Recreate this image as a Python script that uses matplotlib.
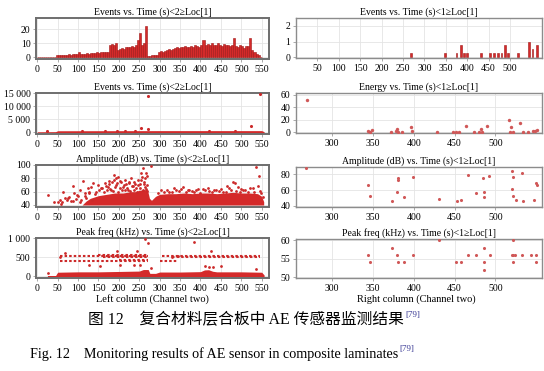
import numpy as np
import matplotlib
matplotlib.use('Agg')
import matplotlib.pyplot as plt
from matplotlib.ticker import FuncFormatter

plt.rcParams['font.family'] = ['Liberation Serif', 'DejaVu Serif']

RED = '#d42a2a'
EDGE = '#a01515'
DOT = '#cc2a2a'
PDOT = '#d05858'

# ---------------- data: channel 2 (left column) ----------------
ev2_bin_start = 0
ev2_bin_width = 5
ev2_counts = [0.3, 0.3, 0.3, 0.3, 0.3, 0.3, 0.3, 0.3, 0.3, 1.5,
              1.5, 1.8, 2, 1.8, 2, 2.2, 2, 2.5, 2.2, 2.5,
              3.5, 2.5, 2.3, 2.5, 2.8, 2.5, 3, 2.8,
              3.2, 3.5, 3, 3.8, 3.5, 4, 3.8,
              9, 9.5, 9, 10,
              5, 6,
              6.5, 6, 7, 7.5,
              7, 8, 7.5, 8.5,
              12, 17, 9, 10, 22,
              0.8, 1, 1.5, 2, 2, 4,
              4.5, 4, 4.5,
              5.5, 6, 5.5, 6, 6.5,
              7, 6.5, 7.5, 7, 8, 7.5, 7, 8, 7.5, 8.5, 8, 7.5, 8.5,
              12,
              9, 9.5, 8.5, 10, 9, 8.5, 10, 9, 8, 9.5, 8.5, 9, 8,
              8.5, 14,
              8, 7, 9, 8, 6.5, 8,
              8, 13.5, 5, 3.5, 2.5, 1.5, 0.5]

e2_t = [25, 110, 165, 195, 215, 240, 255, 272, 272, 420, 485, 523, 545]
e2_v = [300, 300, 400, 300, 300, 400, 1800, 1300, 14000, 500, 500, 2500, 14800]
e2_band_t = [0, 45, 50, 300, 550, 556]
e2_band_lo = [-150, -150, -350, -350, -350, -150]
e2_band_hi = [150, 200, 550, 600, 600, 200]

amp2_core_t = [110, 120, 130, 140, 150, 160, 170, 180, 190, 200, 210, 220, 230, 240,
               250, 260, 270, 275, 280, 290, 300, 320, 340, 360, 380, 400, 420, 440,
               460, 480, 500, 520, 540, 550, 555]
amp2_core_hi = [40, 46, 50, 52, 54, 55, 56, 57, 58, 58, 58, 59, 60, 60,
                62, 63, 63, 50, 47, 53, 56, 57, 57, 58, 57, 58, 58, 57,
                58, 59, 58, 58, 57, 53, 45]
amp2_t = [26, 42, 50, 55, 60, 63, 67, 72, 78, 83, 87, 91, 95, 100, 104, 108, 112, 116, 120,
          124, 128, 132, 136, 144, 149, 157, 165, 173, 177, 181, 189, 192, 193, 198,
          202, 206, 210, 214, 218, 222, 226, 230, 234, 238, 242, 247, 251, 255, 257,
          259, 261, 263, 265, 267, 269, 279, 304, 324, 341, 357, 373, 390, 406, 422,
          439, 455, 471, 484, 492, 504, 516, 528, 537, 541, 543, 549, 553,
          152, 158, 163, 168, 171, 176, 179, 184, 186, 188, 191, 196, 199, 204, 208, 212,
          216, 220, 224, 228, 232, 236, 240, 244, 248, 252, 254, 258, 262, 266, 268, 270,
          295, 310, 318, 330, 336, 348, 352, 365, 370, 380, 385, 395, 400, 412, 418, 428,
          433, 445, 450, 462, 466, 476, 480, 488, 496, 500, 510, 522, 532, 545,
          58, 75, 88, 97, 106, 118, 126, 134, 141]
amp2_v = [55, 45, 45, 48, 44, 60, 50, 47, 52, 46, 68.5, 57.5, 49, 53, 62.5, 48, 76.5, 57.5, 51,
          65, 60, 67.5, 72.5, 60, 70, 65, 72.5, 67.5, 76.5, 62.5, 85, 80, 70, 82.5,
          65, 75, 67.5, 77.5, 71.5, 62.5, 72.5, 80, 68.5, 75, 65, 77.5, 71.5, 87.5, 82.5,
          95, 75, 67.5, 80, 88, 70, 98.5, 62, 60, 62, 67.5, 62, 62, 64, 61,
          62.5, 60, 65, 72.5, 67.5, 62.5, 60, 65, 96.5, 68.5, 83.5, 57.5, 52.5,
          62, 66, 60, 69, 63, 71, 64, 74, 61, 78, 67, 73, 60, 76, 63, 70,
          62, 66, 74, 61, 68, 63, 72, 60, 70, 66, 78, 63, 72, 64, 84, 61,
          58, 60, 63, 59, 66, 61, 64, 59, 63, 61, 60, 64, 58, 62, 66, 59,
          63, 61, 64, 60, 69, 63, 75, 61, 60, 64, 62, 66, 60, 61,
          42, 50, 46, 55, 44, 53, 58, 48, 56]

pf2_core_t = [25, 45, 50, 100, 150, 200, 250, 260, 272, 276, 290, 300, 350, 400, 410,
              420, 430, 440, 500, 550, 556]
pf2_core_hi = [25, 25, 110, 120, 120, 130, 140, 180, 180, 80, 80, 115, 115, 125, 170,
               175, 135, 120, 120, 110, 40]
pf2_seg_t0 = [55, 55, 150, 160, 200, 305, 300, 330]
pf2_seg_t1 = [272, 272, 272, 272, 272, 545, 345, 545]
pf2_seg_f = [525, 390, 555, 500, 430, 520, 400, 500]
pf2_t = [26, 55, 67, 128, 153, 195, 202, 238, 244, 251, 265, 272, 279, 385, 410, 422,
         425, 430, 451, 537, 330, 345]
pf2_v = [80, 500, 600, 300, 260, 660, 310, 290, 660, 290, 970, 880, 220, 890, 280, 250,
         660, 240, 270, 200, 515, 520]

# ---------------- data: channel 1 (right column) ----------------
ev1_t = [269, 348, 375, 385, 392, 400, 432, 453, 463, 472, 480, 488, 495, 519, 544, 553, 563]
ev1_h = [0.25, 0.25, 0.25, 0.75, 0.25, 0.25, 0.25, 0.25, 0.25, 0.25, 0.25, 0.75, 0.25, 0.25,
         1.0, 0.5, 0.75]

e1_t = [269, 344, 346, 349, 372, 378, 380, 381, 386, 397, 398, 429, 448, 452, 455, 464, 474,
        480, 482, 484, 490, 517, 518, 519, 522, 530, 534, 540, 546, 549, 551]
e1_v = [52.5, 2.5, 0.5, 3, 0.3, 1.5, 5, 0.5, 0.3, 8, 1, 0.3, 0.5, 0.3, 0.3, 9, 0.3,
        0.5, 5, 0.5, 9, 19.5, 0.5, 8, 0.3, 15, 0.3, 0.5, 1.5, 2.5, 3.5]

a1_t = [268, 344, 346, 373, 379, 381, 381, 388, 399, 431, 453, 458, 466, 476, 485, 486, 486,
        492, 520, 521, 520, 522, 525, 533, 534, 547, 550, 551]
a1_v = [88, 67, 52.5, 46.5, 57, 76, 73, 51, 77, 49, 46.5, 47.5, 79, 56.5, 76, 58, 51,
        78, 85, 77, 61, 53, 47.5, 82, 46.5, 47.5, 69, 66]

p1_t = [344, 347, 373, 380, 381, 388, 399, 431, 452, 458, 466, 476, 486, 486, 486, 493,
        520, 522, 524, 521, 522, 533, 543, 550, 550]
p1_v = [56, 54, 58, 56, 54, 54, 56, 60, 54, 54, 56, 56, 58, 54, 52, 56,
        56, 56, 56, 60, 54, 56, 56, 56, 54]

titles_left = ["Events vs. Time (s)<2\u2265Loc[1]",
               "Events vs. Time (s)<2\u2265Loc[1]",
               "Amplitude (dB) vs. Time (s)<2\u2265Loc[1]",
               "Peak freq (kHz) vs. Time (s)<2\u2265Loc[1]"]
titles_right = ["Events vs. Time (s)<1\u2265Loc[1]",
                "Energy vs. Time (s)<1\u2265Loc[1]",
                "Amplitude (dB) vs. Time (s)<1\u2265Loc[1]",
                "Peak freq (kHz) vs. Time (s)<1\u2265Loc[1]"]

W, H = 544, 371
fig = plt.figure(figsize=(W / 100, H / 100), dpi=100)


def box(x0, y0, x1, y1):
    return [x0 / W, 1 - y1 / H, (x1 - x0) / W, (y1 - y0) / H]


left_rows = [(18, 59), (93, 134), (165, 207), (238, 278)]
right_rows = [(18, 58), (93, 133), (167, 207), (239, 278)]

thou = FuncFormatter(lambda v, p: f"{int(v):,}".replace(",", " "))


def style(ax, title, dark):
    ax.set_title(title, fontsize=7, pad=2)
    for s in ax.spines.values():
        s.set_color('#6e6e6e' if dark else '#8c8c8c')
        s.set_linewidth(1.4 if dark else 1.0)
    ax.tick_params(labelsize=7, length=2, width=0.5, color='#888888', pad=2)
    ax.grid(True, color='#e4e4e4', linewidth=0.6)
    ax.set_axisbelow(True)


lx = [0, 50, 100, 150, 200, 250, 300, 350, 400, 450, 500, 550]
axL = [fig.add_axes(box(36, r[0], 269, r[1])) for r in left_rows]
axR = [fig.add_axes(box(296, r[0], 542, r[1])) for r in right_rows]

# Left 1 - events histogram
ax = axL[0]
edges = ev2_bin_start + ev2_bin_width * np.arange(len(ev2_counts))
ax.bar(edges, ev2_counts, width=ev2_bin_width, align='edge', color=RED, edgecolor=EDGE,
       linewidth=0.4)
ax.set_ylim(-1.2, 28)
ax.set_yticks([0, 10, 20])

# Left 2 - energy
ax = axL[1]
ax.fill_between(e2_band_t, e2_band_lo, e2_band_hi, color=RED, linewidth=0)
ax.scatter(e2_t, e2_v, s=5, color=DOT, zorder=3, linewidths=0)
ax.set_ylim(-700, 15100)
ax.set_yticks([0, 5000, 10000, 15000])
ax.yaxis.set_major_formatter(thou)

# Left 3 - amplitude
ax = axL[2]
ax.fill_between(amp2_core_t, 40, amp2_core_hi, color=RED, linewidth=0)
ax.scatter(amp2_t, amp2_v, s=4, color=DOT, zorder=3, linewidths=0)
ax.set_ylim(37, 100)
ax.set_yticks([40, 60, 80, 100])

# Left 4 - peak freq
ax = axL[3]
ax.fill_between(pf2_core_t, -5, pf2_core_hi, color=RED, linewidth=0)
for a, b, f in zip(pf2_seg_t0, pf2_seg_t1, pf2_seg_f):
    ax.plot([a, b], [f, f], linestyle=(0, (1.2, 1.0)), color=DOT, linewidth=1.5)
ax.scatter(pf2_t, pf2_v, s=4, color=DOT, zorder=3, linewidths=0)
ax.set_ylim(-40, 1000)
ax.set_yticks([0, 500, 1000])
ax.yaxis.set_major_formatter(thou)

for ax, t in zip(axL, titles_left):
    ax.set_xlim(-3, 568)
    ax.set_xticks(lx)
    style(ax, t, True)

# Right 1 - events
ax = axR[0]
ax.bar(ev1_t, ev1_h, width=4, color=RED, edgecolor=EDGE, linewidth=0.4)
ax.set_xlim(0, 575)
ax.set_xticks([50, 100, 150, 200, 250, 300, 350, 400, 450, 500])
ax.set_ylim(-0.05, 2.5)
ax.set_yticks([0, 1, 2])

# Right 2 - energy
ax = axR[1]
ax.scatter(e1_t, e1_v, s=6, color=PDOT, zorder=3, linewidths=0)
ax.set_ylim(-1.5, 63)
ax.set_yticks([0, 20, 40, 60])

# Right 3 - amplitude
ax = axR[2]
ax.scatter(a1_t, a1_v, s=5, color=PDOT, zorder=3, linewidths=0)
ax.set_ylim(38.5, 89.5)
ax.set_yticks([40, 60, 80])

# Right 4 - peak freq
ax = axR[3]
ax.scatter(p1_t, p1_v, s=5, color=PDOT, zorder=3, linewidths=0, clip_on=True)
ax.set_ylim(49.8, 60.3)
ax.set_yticks([50, 55, 60])

for i, (ax, t) in enumerate(zip(axR, titles_right)):
    if i > 0:
        ax.set_xlim(256, 557)
        ax.set_xticks([300, 350, 400, 450, 500])
    style(ax, t, False)

fig.text(152 / W, 1 - 299 / H, 'Left column (Channel two)', ha='center', va='center', fontsize=7.5)
fig.text(416 / W, 1 - 299 / H, 'Right column (Channel two)', ha='center', va='center', fontsize=7.5)

renderer = fig.canvas.get_renderer()
cn = fig.text(88 / W, 1 - 320 / H, '图 12\u3000复合材料层合板中 AE 传感器监测结果',
              ha='left', va='center', fontsize=11.3,
              family=['Liberation Serif', 'Noto Sans CJK SC'])
bb = cn.get_window_extent(renderer)
fig.text(bb.x1 / W + 0.002, 1 - 315 / H, '[79]', fontsize=6.5, color='#3c3c96',
         ha='left', va='center')
en = fig.text(30 / W, 1 - 354 / H, 'Fig. 12    Monitoring results of AE sensor in composite laminates',
              ha='left', va='center', fontsize=10.2)
bb = en.get_window_extent(renderer)
fig.text(bb.x1 / W + 0.002, 1 - 349 / H, '[79]', fontsize=6.5, color='#3c3c96',
         ha='left', va='center')

fig.savefig('out.png', dpi=100)
